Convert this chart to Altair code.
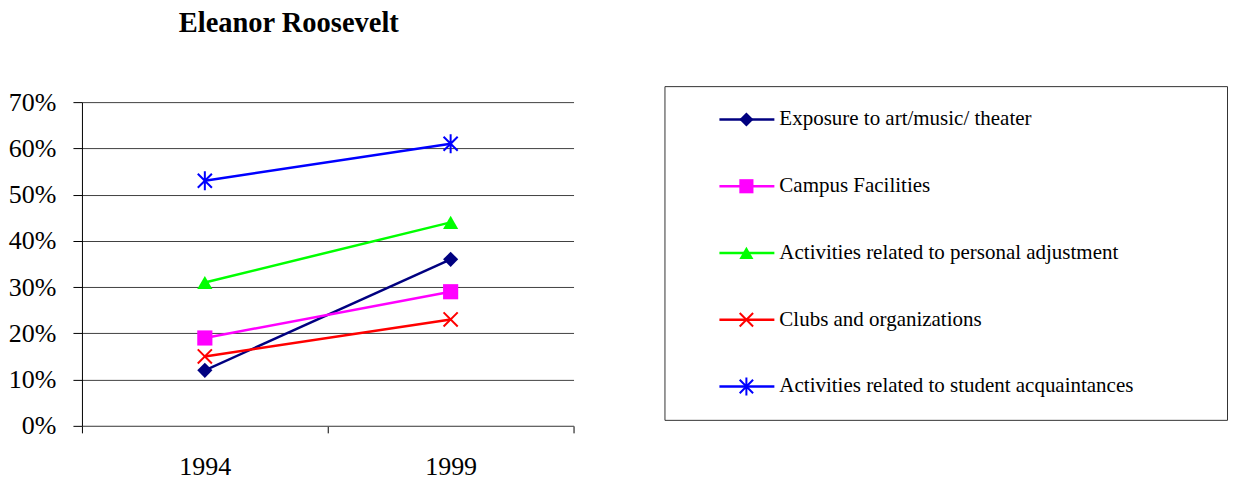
import altair as alt
import pandas as pd

# ---------------- data ----------------
years = ["1994", "1999"]
series = [
    "Exposure to art/music/ theater",
    "Campus Facilities",
    "Activities related to personal adjustment",
    "Clubs and organizations",
    "Activities related to student acquaintances",
]
values_1994 = [0.12, 0.19, 0.31, 0.15, 0.53]
values_1999 = [0.36, 0.29, 0.44, 0.23, 0.61]
y_ticks = [0, 0.1, 0.2, 0.3, 0.4, 0.5, 0.6, 0.7]

colors = ["#000080", "#FF00FF", "#00FF00", "#FF0000", "#0000FF"]
X_PATH = "M-1,-1L1,1M-1,1L1,-1"
STAR_PATH = "M-1,-1L1,1M-1,1L1,-1M0,-1.35L0,1.35"
shapes = ["diamond", "square", "triangle-up", X_PATH, STAR_PATH]
filled = [True, True, True, False, False]

rows = []
for i, s in enumerate(series):
    for yr, v in zip(years, [values_1994[i], values_1999[i]]):
        rows.append({"Series": s, "Year": yr, "Value": v, "Filled": filled[i]})
df = pd.DataFrame(rows)
legend_df = pd.DataFrame({"Series": series, "Filled": filled})

FONT = "Liberation Serif"
color_scale = alt.Scale(domain=series, range=colors)
shape_scale = alt.Scale(domain=series, range=shapes)
color_enc = alt.Color("Series:N", scale=color_scale, legend=None)
shape_enc = alt.Shape("Series:N", scale=shape_scale, legend=None)

# ---------------- main plot ----------------
x_enc = alt.X(
    "Year:N",
    scale=alt.Scale(type="band", paddingInner=0, paddingOuter=0),
    axis=alt.Axis(
        title=None, tickBand="extent", labelAngle=0, labelFont=FONT,
        labelFontSize=26, labelColor="black", labelPadding=21, tickSize=7,
        tickColor="black", domainColor="#666666", grid=False,
    ),
)
y_enc = alt.Y(
    "Value:Q",
    scale=alt.Scale(domain=[0, 0.7], range=[340, 16], nice=False),
    axis=alt.Axis(
        title=None, format=".0%", values=y_ticks, grid=True, gridColor="#404040",
        gridWidth=1, tickSize=9, tickColor="black", labelPadding=17,
        labelFont=FONT, labelFontSize=26, labelColor="black", domainColor="black",
    ),
)

base = alt.Chart(df)
lines = base.mark_line(strokeWidth=2.5).encode(x=x_enc, y=y_enc, color=color_enc, detail="Series:N")
pts_filled = base.transform_filter("datum.Filled").mark_point(
    filled=True, size=230, opacity=1
).encode(x=x_enc, y=y_enc, color=color_enc, shape=shape_enc)
pts_stroked = base.transform_filter("!datum.Filled").mark_point(
    filled=False, size=200, opacity=1, strokeWidth=2
).encode(x=x_enc, y=y_enc, color=color_enc, shape=shape_enc)

main = alt.layer(lines, pts_filled, pts_stroked).properties(
    width=492,
    height=340,
    view=alt.ViewBackground(stroke=None),
    title=alt.TitleParams(
        "Eleanor Roosevelt", font=FONT, fontSize=28.5, fontWeight="bold",
        color="black", anchor="middle", dx=-39, baseline="alphabetic", offset=26,
    ),
)

# ---------------- legend ----------------
ly = alt.Y("Series:N", sort=series, scale=alt.Scale(type="point", padding=0.5), axis=None)
lbase = alt.Chart(legend_df)
l_rule = lbase.mark_rule(strokeWidth=2.5).encode(
    x=alt.value(55), x2=alt.value(110), y=ly, color=color_enc
)
l_pf = lbase.transform_filter("datum.Filled").mark_point(
    filled=True, size=200, opacity=1
).encode(x=alt.value(82), y=ly, color=color_enc, shape=shape_enc)
l_ps = lbase.transform_filter("!datum.Filled").mark_point(
    filled=False, size=180, opacity=1, strokeWidth=2
).encode(x=alt.value(82), y=ly, color=color_enc, shape=shape_enc)
l_text = lbase.mark_text(
    align="left", baseline="middle", font=FONT, fontSize=21, color="black"
).encode(x=alt.value(115), y=ly, text="Series:N")

legend = alt.layer(l_rule, l_pf, l_ps, l_text).properties(
    width=563, height=334,
    view=alt.ViewBackground(stroke="#333333", strokeWidth=1),
)

chart = alt.hconcat(main, legend, spacing=89).properties(
    padding={"left": 0, "top": 0, "right": 0, "bottom": 0},
    background="white",
)

chart.save("out.html", embed_options={"renderer": "svg", "actions": False})
